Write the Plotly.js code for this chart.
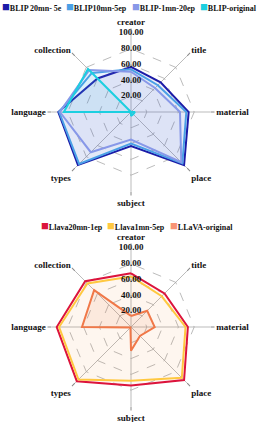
<!DOCTYPE html>
<html><head><meta charset="utf-8">
<script src="https://cdn.plot.ly/plotly-3.0.1.min.js"></script>
<style>html,body{margin:0;padding:0;background:#fff}#chart{width:264px;height:422px}</style>
</head><body><div id="chart"></div>
<script>
const categories = ['creator','title','material','place','subject','types','language','collection'];
const radialTicks = [0, 20, 40, 60, 80, 100];

const blipNames = ['BLIP 20mn- 5e', 'BLIP10mn-5ep', 'BLIP-1mn-20ep', 'BLIP-original'];
const blip20mn5e   = [57, 53, 73, 95, 43, 95, 92, 60];
const blip10mn5ep  = [54, 48, 70, 92, 40, 93, 91, 70];
const blip1mn20ep  = [51, 43, 62, 90, 35, 72, 90, 75];
const blipOriginal = [0, 0, 5, 4, 5, 0, 85, 77];

const llavaNames = ['Llava20mn-1ep', 'Llava1mn-5ep', 'LLaVA-original'];
const llava20mn1ep  = [68, 60, 72, 95, 74, 97, 94, 82];
const llava1mn5ep   = [64, 55, 69, 91, 68, 94, 91, 78];
const llavaOriginal = [14, 29, 30, 16, 30, 1, 62, 66];

const blipColors  = ['#1c1ca8', '#4aa0e6', '#8898e8', '#1ccfe0'];
const blipFills   = ['rgba(28,28,168,0.08)', 'rgba(74,160,230,0.06)', 'rgba(136,152,232,0.06)', 'rgba(28,207,224,0.08)'];
const llavaColors = ['#dc143c', '#ffc840', '#f07848'];
const llavaLegendColors = ['#dc143c', '#ffc840', '#f99474'];
const llavaFills  = ['rgba(240,120,72,0.05)', 'rgba(255,200,64,0.04)', 'rgba(240,120,72,0.10)'];

const FONT = 'Liberation Serif, Times New Roman, serif';

function closed(a){ return a.concat([a[0]]); }
function trace(vals, name, color, fill, sub){
  return {type:'scatterpolar', subplot:sub, r:closed(vals), theta:closed(categories),
    mode:'lines', name:name, line:{color:color, width:2}, fill:'toself', fillcolor:fill,
    showlegend:false, hoverinfo:'skip'};
}
function tickTrace(sub){
  return {type:'scatterpolar', subplot:sub, r:radialTicks, theta:radialTicks.map(()=>categories[0]),
    mode:'text', text:radialTicks.map(v=>v.toFixed(2)), textposition:'middle center',
    textfont:{family:FONT, size:9, color:'#111', weight:'bold'}, showlegend:false, hoverinfo:'skip'};
}
const data = [
  trace(blip20mn5e, blipNames[0], blipColors[0], blipFills[0], 'polar'),
  trace(blip10mn5ep, blipNames[1], blipColors[1], blipFills[1], 'polar'),
  trace(blip1mn20ep, blipNames[2], blipColors[2], blipFills[2], 'polar'),
  trace(blipOriginal, blipNames[3], blipColors[3], blipFills[3], 'polar'),
  tickTrace('polar'),
  trace(llava20mn1ep, llavaNames[0], llavaColors[0], llavaFills[0], 'polar2'),
  trace(llava1mn5ep, llavaNames[1], llavaColors[1], llavaFills[1], 'polar2'),
  trace(llavaOriginal, llavaNames[2], llavaColors[2], llavaFills[2], 'polar2'),
  tickTrace('polar2')
];

function polarAxes(ydom){
  return {
    domain:{x:[52/264, 210/264], y:ydom},
    gridshape:'linear', bgcolor:'#fff',
    radialaxis:{range:[0,100], tickvals:radialTicks, showticklabels:false, angle:90,
      showline:false, ticks:'', gridcolor:'#aaaaaa', griddash:'dash', gridwidth:0.8},
    angularaxis:{type:'category', categoryarray:categories, direction:'clockwise', rotation:90,
      showline:false, gridcolor:'#aaaaaa', gridwidth:0.8, ticks:'outside', ticklen:4, tickcolor:'#888',
      tickfont:{family:FONT, size:9, color:'#111', weight:'bold'}}
  };
}

function legendAnn(name, color, xpx, ypx){
  return {xref:'paper', yref:'paper', x:xpx/264, y:1-ypx/422, xanchor:'left', yanchor:'middle',
    showarrow:false, align:'left',
    text:'<span style="color:'+color+';font-size:13px">■</span>'+name,
    font:{family:FONT, size:8, color:'#111', weight:'bold'}};
}
const annotations = [
  legendAnn(blipNames[0], blipColors[0], 0, 6),
  legendAnn(blipNames[1], blipColors[1], 64, 6),
  legendAnn(blipNames[2], blipColors[2], 130, 6),
  legendAnn(blipNames[3], blipColors[3], 198, 6),
  legendAnn(llavaNames[0], llavaLegendColors[0], 39, 225),
  legendAnn(llavaNames[1], llavaLegendColors[1], 105, 225),
  legendAnn(llavaNames[2], llavaLegendColors[2], 168, 225)
];

const layout = {
  width:264, height:422, margin:{l:0, r:0, t:0, b:0},
  paper_bgcolor:'#fff', showlegend:false,
  font:{family:FONT, size:9, color:'#111'},
  polar: polarAxes([1-191/422, 1-33/422]),
  polar2: polarAxes([1-406/422, 1-248/422]),
  annotations: annotations
};
Plotly.newPlot('chart', data, layout, {staticPlot:true, displayModeBar:false});
</script></body></html>
